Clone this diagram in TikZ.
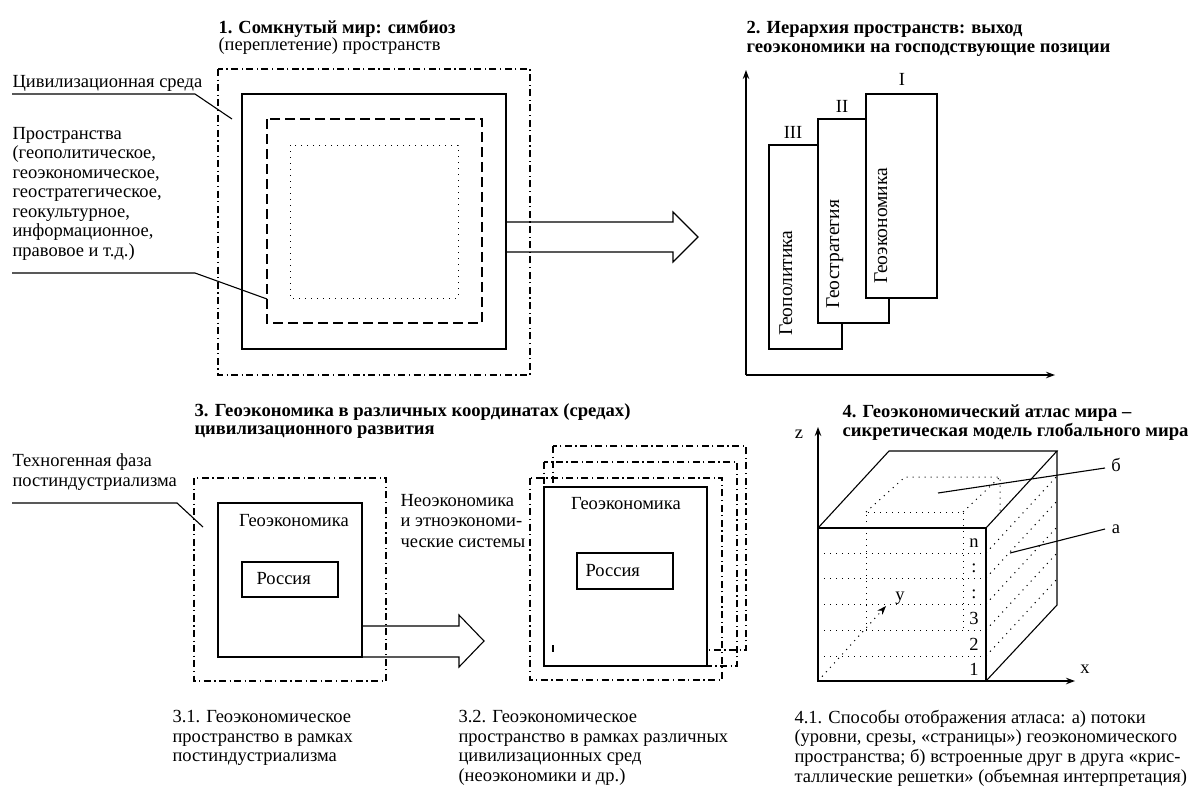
\documentclass[tikz,border=0pt]{standalone}
\usepackage{fontspec}
\usepackage{graphicx}
\setmainfont{Liberation Serif}
\usetikzlibrary{arrows.meta}
\newcommand{\fitw}[2]{\resizebox{#1pt}{\height}{#2}}
\newcommand{\bodyfont}[1]{\fontsize{18.5}{#1}\selectfont\lineskiplimit=-30pt\relax}
\begin{document}
\begin{tikzpicture}[x=1pt,y=-1pt,line width=1.1pt,
  dashdot/.style={dash pattern=on 7pt off 3.5pt on 1.2pt off 3.5pt},
  dsh/.style={dash pattern=on 10pt off 5pt},
  dts/.style={line width=1pt,dash pattern=on 1.1pt off 4.9pt},
  arr/.style={-{Stealth[length=9pt,width=6.5pt]}},
  txt/.style={inner sep=0pt,font=\bodyfont{19.5},align=left,anchor=north west},
  ttl/.style={inner sep=0pt,font=\bfseries\bodyfont{18},align=left,anchor=north west},
  lab/.style={inner sep=0pt,font=\bodyfont{19.5},anchor=base},
  rot/.style={inner sep=0pt,font=\fontsize{19.5}{20}\selectfont,rotate=90,anchor=base west},
  box/.style={draw,fill=white}]
\useasboundingbox (0,0) rectangle (1194,785);

% ---------- Section 1 ----------
\node[ttl,font=\bfseries\bodyfont{17}] (t1) at (218,20.2) {\fitw{237}{1. Сомкнутый мир: симбиоз}\\\mdseries (переплетение) пространств};
\draw[dashdot] (218,69) rectangle (530,375);
\draw (242,94) rectangle (506,349);
\draw[dsh] (267,119) rectangle (482,323);
\draw[dts] (290,145) rectangle (458,298);
\draw (506,222) -- (673,222) -- (673,212) -- (698,237) -- (673,262) -- (673,252) -- (506,252);
\node[txt] (civ) at (12,74.8) {Цивилизационная среда};
\node[txt] (prost) at (12,126.8) {Пространства\\(геополитическое,\\геоэкономическое,\\геостратегическое,\\геокультурное,\\информационное,\\правовое и т.д.)};
\coordinate (c1a) at (12,94); \coordinate (c1b) at (195,94); \coordinate (c1c) at (232,119);
\coordinate (c2a) at (12,273); \coordinate (c2b) at (195,273); \coordinate (c2c) at (267,299);
\draw (c1a) -- (c1b) -- (c1c);
\draw (c2a) -- (c2b) -- (c2c);

% ---------- Section 2 ----------
\node[ttl,font=\bfseries\bodyfont{19}] (t2) at (746,20.2) {\fitw{276}{2. Иерархия пространств: выход}\\\fitw{364}{геоэкономики на господствующие позиции}};
\coordinate (o2) at (746,375); \coordinate (y2) at (746,70); \coordinate (x2) at (1055,375);
\draw[arr] (o2) -- (y2);
\draw[arr] (o2) -- (x2);
\draw[box] (769,145) rectangle (842,349);
\draw[box] (818,119) rectangle (889,323);
\draw[box] (866,94) rectangle (937,298);
\node[lab] (r3) at (793,138) {III};
\node[lab] (r2) at (842,112) {II};
\node[lab] (r1) at (902,85) {I};
\node[rot] (gp) at (792,336) {Геополитика};
\node[rot] (gs) at (839,309) {Геостратегия};
\node[rot] (ge) at (887,284) {Геоэкономика};

% ---------- Section 3 ----------
\node[ttl] (t3) at (194,403.5) {\fitw{436}{3. Геоэкономика в различных координатах (средах)}\\\fitw{240}{цивилизационного развития}};
\node[txt,font=\bodyfont{20}] (tech) at (12,453.4) {Техногенная фаза\\постиндустриализма};
\coordinate (c3a) at (12,503); \coordinate (c3b) at (177,503); \coordinate (c3c) at (203,527);
\draw (c3a) -- (c3b) -- (c3c);
\draw[dashdot] (194,478) rectangle (386,681);
\draw (218,503) rectangle (362,657);
\node[lab] (g31) at (294,526) {Геоэкономика};
\draw (242,562) rectangle (338,597);
\node[lab,anchor=base west] (ru31) at (256,584) {Россия};
\draw (362,626) -- (459,626) -- (459,615) -- (484,641) -- (459,667) -- (459,657) -- (362,657);
\node[txt,font=\bodyfont{20.5}] (neo) at (400,493.8) {Неоэкономика\\и этноэкономи-\\ческие системы};
\draw[dashdot] (553,446) rectangle (746,650);
\draw[dashdot] (544,462) rectangle (737,666);
\draw[dashdot] (530,478) rectangle (722,680);
\draw[box] (544,487) rectangle (707,666);
\draw (553,645) -- (553,652);
\node[lab] (g32) at (626,509) {Геоэкономика};
\draw (577,553) rectangle (673,589);
\node[lab,anchor=base west] (ru32) at (585,576) {Россия};
\node[txt,font=\bodyfont{19.7}] (cap31) at (172,709.5) {3.1. Геоэкономическое\\пространство в рамках\\постиндустриализма};
\node[txt,font=\bodyfont{19.7}] (cap32) at (458,709.5) {3.2. Геоэкономическое\\пространство в рамках различных\\цивилизационных сред\\(неоэкономики и др.)};

% ---------- Section 4 ----------
\node[ttl,font=\bfseries\bodyfont{19}] (t4) at (842,404) {4. Геоэкономический атлас мира –\\\fitw{346}{сикретическая модель глобального мира}};
\coordinate (fo) at (818,681); \coordinate (fr) at (986,681);
\coordinate (ftl) at (818,528); \coordinate (ftr) at (986,528);
\coordinate (btl) at (889,451); \coordinate (btr) at (1057,451); \coordinate (bbr) at (1057,605);
\coordinate (zt) at (818,427); \coordinate (xt) at (1075,681); \coordinate (yt) at (886,606);
\foreach \yy in {553,578,604,630,656} {
  \draw[dts] (818,\yy) -- (986,\yy);
  \draw[dts] (986,\yy) -- (1057,\yy-77);
}
\draw[dts] (866,630) -- (866,512) -- (963,512) -- (963,630);
\draw[dts] (866,512) -- (905,477) -- (1000,477) -- (1000,513);
\draw[dts] (963,512) -- (1000,477);
\draw[dts,arr] (fo) -- (yt);
\draw (ftl) rectangle (fr);
\draw (ftl) -- (btl) -- (btr) -- (ftr);
\draw (btr) -- (bbr) -- (fr);
\draw[arr] (ftl) -- (zt);
\draw[arr] (fr) -- (xt);
\node[lab] (zl) at (799,438) {z};
\node[lab] (xl) at (1085,673) {x};
\node[lab] (yl) at (900,600) {y};
\node[lab] (l6) at (974,547) {n};
\node[lab] (l5) at (974,572) {:};
\node[lab] (l4) at (974,598) {:};
\node[lab] (l3) at (974,624) {3};
\node[lab] (l2) at (974,650) {2};
\node[lab] (l1) at (974,675) {1};
\node[lab] (lb) at (1116,471) {б};
\node[lab] (la) at (1116,533) {а};
\coordinate (pb) at (938,493); \coordinate (qb) at (1105,468);
\coordinate (pa) at (1010,553); \coordinate (qa) at (1105,529);
\draw (pb) -- (qb);
\draw (pa) -- (qa);
\node[txt,font=\bodyfont{19.8}] (cap41) at (794,709.3) {4.1. Способы отображения атласа: а) потоки\\(уровни, срезы, «страницы») геоэкономического\\пространства; б) встроенные друг в друга «крис-\\таллические решетки» (объемная интерпретация)};
\end{tikzpicture}
\end{document}
